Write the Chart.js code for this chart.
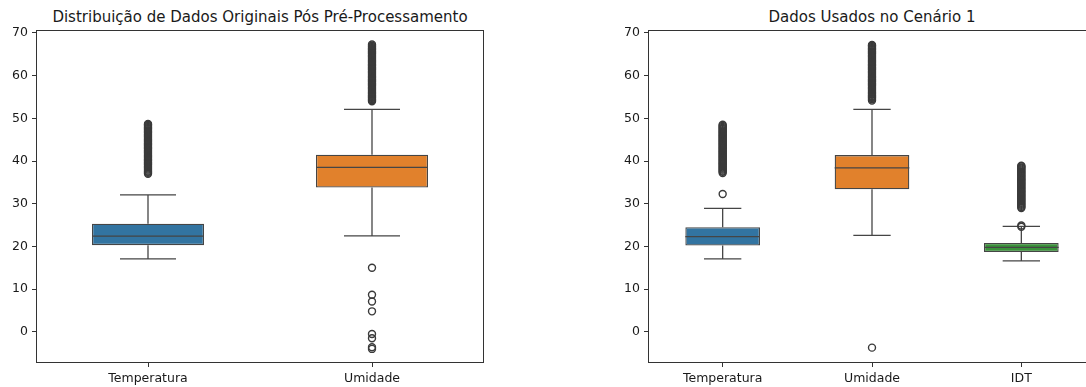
<!DOCTYPE html>
<html>
<head>
<meta charset="utf-8">
<script src="https://cdn.jsdelivr.net/npm/chart.js@4/dist/chart.umd.min.js"></script>
<style>
  html, body { margin: 0; padding: 0; background: #fff; overflow: hidden; }
  body { width: 1086px; height: 387px; position: relative; font-family: 'DejaVu Sans', sans-serif; }
  .panel { position: absolute; top: 0; width: 490px; height: 387px; }
  .panel canvas { position: absolute; left: 0; top: 0; }
  .title { position: absolute; top: 9px; left: 36px; width: 448px; text-align: center;
           font-size: 15px; line-height: 16px; color: #1a1a1a; white-space: nowrap; }
</style>
</head>
<body>
<div class="panel" style="left:0px">
  <div class="title">Distribuição de Dados Originais Pós Pré-Processamento</div>
  <canvas id="leftChart" width="490" height="387"></canvas>
</div>
<div class="panel" style="left:612px">
  <div class="title">Dados Usados no Cenário 1</div>
  <canvas id="rightChart" width="490" height="387"></canvas>
</div>
<script>
// values
const yTicks = [0, 10, 20, 30, 40, 50, 60, 70];
const boxColors = ['#3274a1', '#e1812c', '#3a923a'];

// left panel
const leftCategories = ['Temperatura', 'Umidade'];
const leftLow = [17.1, 22.5];
const leftQ1 = [20.3, 33.8];
const leftMedian = [22.4, 38.5];
const leftQ3 = [25.3, 41.5];
const leftHigh = [32.1, 52.1];
const leftOutTemperatura = [37.0, 37.25, 37.5, 37.75, 38.0, 38.25, 38.5, 38.75, 39.0, 39.25, 39.5, 39.75,
  40.0, 40.25, 40.5, 40.75, 41.0, 41.25, 41.5, 41.75, 42.0, 42.25, 42.5, 42.75, 43.0, 43.25, 43.5, 43.75,
  44.0, 44.25, 44.5, 44.75, 45.0, 45.25, 45.5, 45.75, 46.0, 46.25, 46.5, 46.75, 47.0, 47.25, 47.5, 47.75,
  48.0, 48.25, 48.5, 48.7];
const leftOutUmidade = [54.0, 54.25, 54.5, 54.75, 55.0, 55.25, 55.5, 55.75, 56.0, 56.25, 56.5, 56.75,
  57.0, 57.25, 57.5, 57.75, 58.0, 58.25, 58.5, 58.75, 59.0, 59.25, 59.5, 59.75, 60.0, 60.25, 60.5, 60.75,
  61.0, 61.25, 61.5, 61.75, 62.0, 62.25, 62.5, 62.75, 63.0, 63.25, 63.5, 63.75, 64.0, 64.25, 64.5, 64.75,
  65.0, 65.25, 65.5, 65.75, 66.0, 66.25, 66.5, 66.75, 67.0, 67.3,
  15.0, 8.7, 7.1, 4.8, -0.5, -1.5, -3.6, -4.0];

// right panel
const rightCategories = ['Temperatura', 'Umidade', 'IDT'];
const rightLow = [17.1, 22.6, 16.6];
const rightQ1 = [20.2, 33.4, 18.7];
const rightMedian = [22.3, 38.4, 19.8];
const rightQ3 = [24.5, 41.4, 20.8];
const rightHigh = [28.9, 52.1, 24.7];
const rightOutTemperatura = [32.3, 37.2, 37.5, 37.75, 38.0, 38.25, 38.5, 38.75, 39.0, 39.25, 39.5, 39.75,
  40.0, 40.25, 40.5, 40.75, 41.0, 41.25, 41.5, 41.75, 42.0, 42.25, 42.5, 42.75, 43.0, 43.25, 43.5, 43.75,
  44.0, 44.25, 44.5, 44.75, 45.0, 45.25, 45.5, 45.75, 46.0, 46.25, 46.5, 46.75, 47.0, 47.25, 47.5, 47.75,
  48.0, 48.25, 48.5];
const rightOutUmidade = [54.2, 54.5, 54.75, 55.0, 55.25, 55.5, 55.75, 56.0, 56.25, 56.5, 56.75,
  57.0, 57.25, 57.5, 57.75, 58.0, 58.25, 58.5, 58.75, 59.0, 59.25, 59.5, 59.75, 60.0, 60.25, 60.5, 60.75,
  61.0, 61.25, 61.5, 61.75, 62.0, 62.25, 62.5, 62.75, 63.0, 63.25, 63.5, 63.75, 64.0, 64.25, 64.5, 64.75,
  65.0, 65.25, 65.5, 65.75, 66.0, 66.25, 66.5, 66.75, 67.0, 67.2, -3.7];
const rightOutIDT = [24.6, 24.9, 29.0, 29.25, 29.5, 29.75, 30.0, 30.25, 30.5, 30.75, 31.0, 31.25, 31.5, 31.75,
  32.0, 32.25, 32.5, 32.75, 33.0, 33.25, 33.5, 33.75, 34.0, 34.25, 34.5, 34.75, 35.0, 35.25, 35.5, 35.75,
  36.0, 36.25, 36.5, 36.75, 37.0, 37.25, 37.5, 37.75, 38.0, 38.25, 38.5, 38.75, 38.9];

const lineColor = '#454545';
const font = { family: "'DejaVu Sans', sans-serif", size: 12.5 };

// whiskers, caps, medians and the full frame, drawn through the chart's scales
const boxExtras = {
  id: 'boxExtras',
  beforeDatasetsDraw(chart) {
    const s = chart.options.boxStats;
    const x = chart.scales.x, y = chart.scales.y, ctx = chart.ctx;
    const step = x.getPixelForValue(1) - x.getPixelForValue(0);
    ctx.save();
    ctx.strokeStyle = lineColor;
    ctx.lineWidth = 1.3;
    s.low.forEach((lo, i) => {
      const cx = x.getPixelForValue(i);
      const half = step * 0.125;
      ctx.beginPath();
      ctx.moveTo(cx, y.getPixelForValue(lo));
      ctx.lineTo(cx, y.getPixelForValue(s.q1[i]));
      ctx.moveTo(cx, y.getPixelForValue(s.q3[i]));
      ctx.lineTo(cx, y.getPixelForValue(s.high[i]));
      ctx.moveTo(cx - half, y.getPixelForValue(lo));
      ctx.lineTo(cx + half, y.getPixelForValue(lo));
      ctx.moveTo(cx - half, y.getPixelForValue(s.high[i]));
      ctx.lineTo(cx + half, y.getPixelForValue(s.high[i]));
      ctx.stroke();
    });
    ctx.restore();
  },
  afterDatasetsDraw(chart) {
    const s = chart.options.boxStats;
    const x = chart.scales.x, y = chart.scales.y, ctx = chart.ctx;
    const step = x.getPixelForValue(1) - x.getPixelForValue(0);
    ctx.save();
    ctx.strokeStyle = lineColor;
    ctx.lineWidth = 1.3;
    s.median.forEach((m, i) => {
      const cx = x.getPixelForValue(i);
      const py = y.getPixelForValue(m);
      ctx.beginPath();
      ctx.moveTo(cx - step * 0.25, py);
      ctx.lineTo(cx + step * 0.25, py);
      ctx.stroke();
    });
    const a = chart.chartArea;
    ctx.strokeStyle = '#333';
    ctx.lineWidth = 1;
    ctx.strokeRect(a.left + 0.5, a.top + 0.5, a.right - a.left - 1, a.bottom - a.top - 1);
    ctx.restore();
  }
};

function makeBoxChart(id, cats, low, q1, median, q3, high, outliers) {
  const points = [];
  outliers.forEach((list, i) => list.forEach(v => points.push({ x: cats[i], y: v })));
  return new Chart(document.getElementById(id), {
    type: 'bar',
    data: {
      labels: cats,
      datasets: [{
        data: cats.map((c, i) => [q1[i], q3[i]]),
        backgroundColor: boxColors.slice(0, cats.length),
        borderColor: lineColor,
        borderWidth: 1.3,
        borderSkipped: false,
        barPercentage: 0.5,
        categoryPercentage: 1.0
      }, {
        type: 'scatter',
        data: points,
        pointStyle: 'circle',
        pointRadius: 3.5,
        pointBorderWidth: 1.4,
        pointBorderColor: '#3a3a3a',
        pointBackgroundColor: 'rgba(0,0,0,0)'
      }]
    },
    options: {
      responsive: false,
      animation: false,
      boxStats: { low, q1, median, q3, high },
      layout: { padding: { top: 30, right: 6, left: 0, bottom: 0 } },
      plugins: { legend: { display: false }, tooltip: { enabled: false }, title: { display: false } },
      scales: {
        x: {
          type: 'category',
          offset: true,
          grid: { display: true, offset: false, drawOnChartArea: false, tickLength: 4, color: '#333', tickWidth: 1 },
          border: { display: false },
          ticks: { color: '#1a1a1a', font, padding: 4, maxRotation: 0 },
          afterFit(scale) { scale.height = 24; }
        },
        y: {
          type: 'linear',
          min: -7.3,
          max: 70.7,
          grid: { display: true, drawOnChartArea: false, tickLength: 4, color: '#333', tickWidth: 1 },
          border: { display: false },
          ticks: { color: '#1a1a1a', font, padding: 4 },
          afterBuildTicks(scale) { scale.ticks = yTicks.map(v => ({ value: v })); },
          afterFit(scale) { scale.width = 36; }
        }
      }
    },
    plugins: [boxExtras]
  });
}

makeBoxChart('leftChart', leftCategories, leftLow, leftQ1, leftMedian, leftQ3, leftHigh,
  [leftOutTemperatura, leftOutUmidade]);
makeBoxChart('rightChart', rightCategories, rightLow, rightQ1, rightMedian, rightQ3, rightHigh,
  [rightOutTemperatura, rightOutUmidade, rightOutIDT]);
</script>
</body>
</html>
